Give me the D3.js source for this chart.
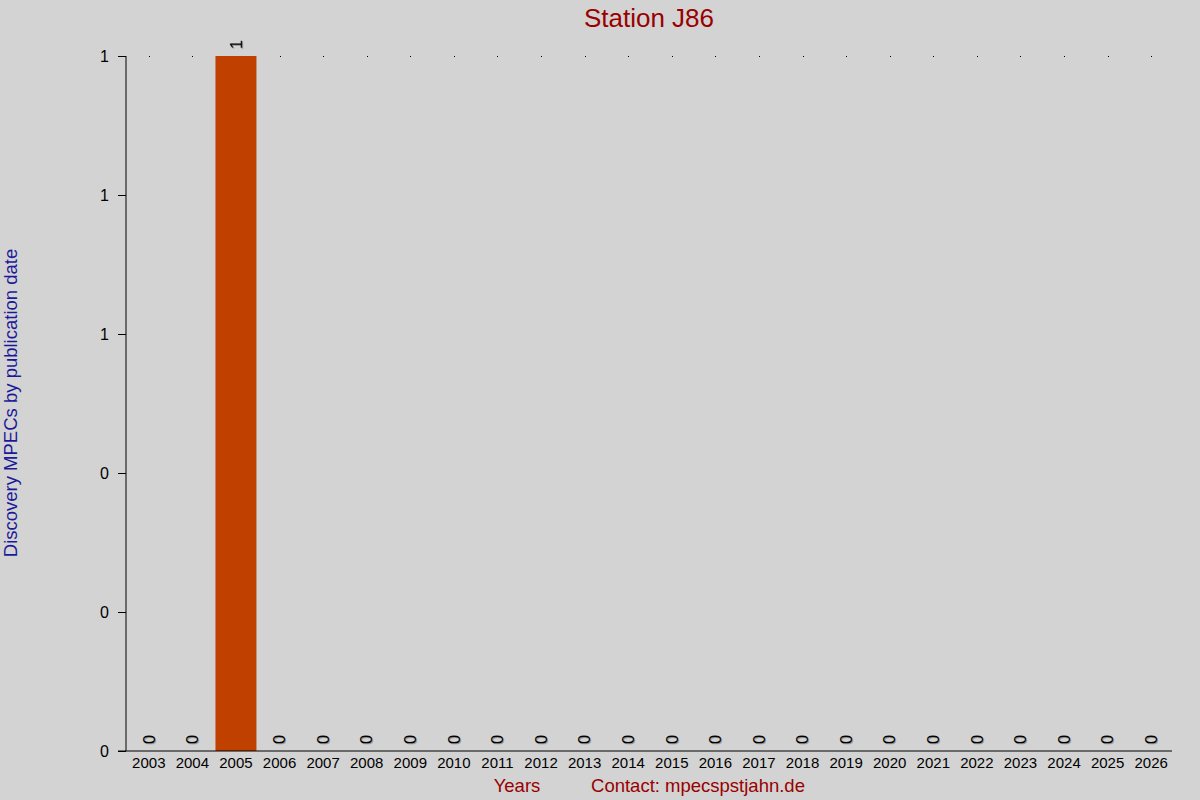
<!DOCTYPE html>
<html lang="en">
<head>
<meta charset="utf-8">
<title>Station J86</title>
<script src="https://d3js.org/d3.v7.min.js"></script>
<style>
  body { margin: 0; background: #d3d3d3; }
  svg { display: block; font-family: "Liberation Sans", Arial, sans-serif; }
</style>
</head>
<body>
<svg id="chart" width="1200" height="800"></svg>
<script>
// data
var years = ["2003","2004","2005","2006","2007","2008","2009","2010","2011","2012","2013","2014",
             "2015","2016","2017","2018","2019","2020","2021","2022","2023","2024","2025","2026"]
var counts = [0,0,1,0,0,0,0,0,0,0,0,0,0,0,0,0,0,0,0,0,0,0,0,0]
var yTicks = [0, 0.2, 0.4, 0.6, 0.8, 1]

var W = 1200, H = 800
var margin = {top: 56, bottom: 49, left: 126, right: 28}
var font = "Liberation Sans, Arial, sans-serif"

var svg = d3.select("#chart")
svg.append("rect").attr("width", W).attr("height", H).attr("fill", "#d3d3d3")

var x = d3.scaleBand().domain(years)
  .range([margin.left + 1, W - margin.right + 1])
  .paddingInner(0.06).paddingOuter(0.03)
var y = d3.scaleLinear().domain([0, 1]).range([H - margin.bottom, margin.top])

// little dots along the top
svg.append("g").selectAll("rect")
  .data(years).enter().append("rect")
  .attr("x", d => Math.round(x(d) + x.bandwidth() / 2))
  .attr("y", y(1))
  .attr("width", 1).attr("height", 1)
  .attr("fill", "#000")

// bars
svg.append("g").selectAll("rect")
  .data(years).enter().append("rect")
  .attr("x", d => x(d))
  .attr("width", x.bandwidth())
  .attr("y", (d, i) => y(counts[i]))
  .attr("height", (d, i) => y(0) - y(counts[i]))
  .attr("fill", "#c04000")

// y axis
var yAxis = d3.axisLeft(y).tickValues(yTicks).tickFormat(d3.format(".0f")).tickSize(8).tickPadding(9)
var gy = svg.append("g").attr("transform", "translate(" + margin.left + ",0)").call(yAxis)
gy.select(".domain").attr("d", "M0," + y(1) + "V" + y(0))
gy.selectAll("text").attr("font-size", 16).attr("fill", "#000").attr("font-family", font)

// x axis
var xAxis = d3.axisBottom(x).tickSize(0).tickPadding(6)
var gx = svg.append("g").attr("transform", "translate(0," + y(0) + ")").call(xAxis)
gx.select(".domain").attr("d", "M" + (margin.left - 8) + ",0H" + (W - margin.right))
gx.selectAll("text").attr("font-size", 15).attr("fill", "#000").attr("font-family", font)

// value labels, rotated, with light shadow
var labels = svg.append("g").attr("font-family", font)
years.forEach(function(d, i) {
  var cx = x(d) + x.bandwidth() / 2
  var cy = y(counts[i]) - 7
  labels.append("text")
    .attr("transform", "translate(" + (cx + 1) + "," + (cy + 1) + ") rotate(-90)")
    .attr("dy", "0.35em").attr("font-size", 16.5).attr("fill", "#999")
    .text(counts[i])
  labels.append("text")
    .attr("transform", "translate(" + cx + "," + cy + ") rotate(-90)")
    .attr("dy", "0.35em").attr("font-size", 16.5).attr("fill", "#000")
    .text(counts[i])
})

// title
svg.append("text").attr("x", 649).attr("y", 27)
  .attr("text-anchor", "middle").attr("font-size", 26).attr("fill", "#990000")
  .attr("font-family", font)
  .text("Station J86")

// y label
svg.append("text")
  .attr("transform", "translate(17,403) rotate(-90)")
  .attr("text-anchor", "middle").attr("font-size", 18.5).attr("fill", "#1a1a99")
  .attr("font-family", font)
  .text("Discovery MPECs by publication date")

// footer
svg.append("text").attr("x", 517).attr("y", 792)
  .attr("text-anchor", "middle").attr("font-size", 18.5).attr("fill", "#990000")
  .attr("font-family", font)
  .text("Years")
svg.append("text").attr("x", 698).attr("y", 792)
  .attr("text-anchor", "middle").attr("font-size", 18.5).attr("fill", "#990000")
  .attr("font-family", font)
  .text("Contact: mpecspstjahn.de")
</script>
</body>
</html>
